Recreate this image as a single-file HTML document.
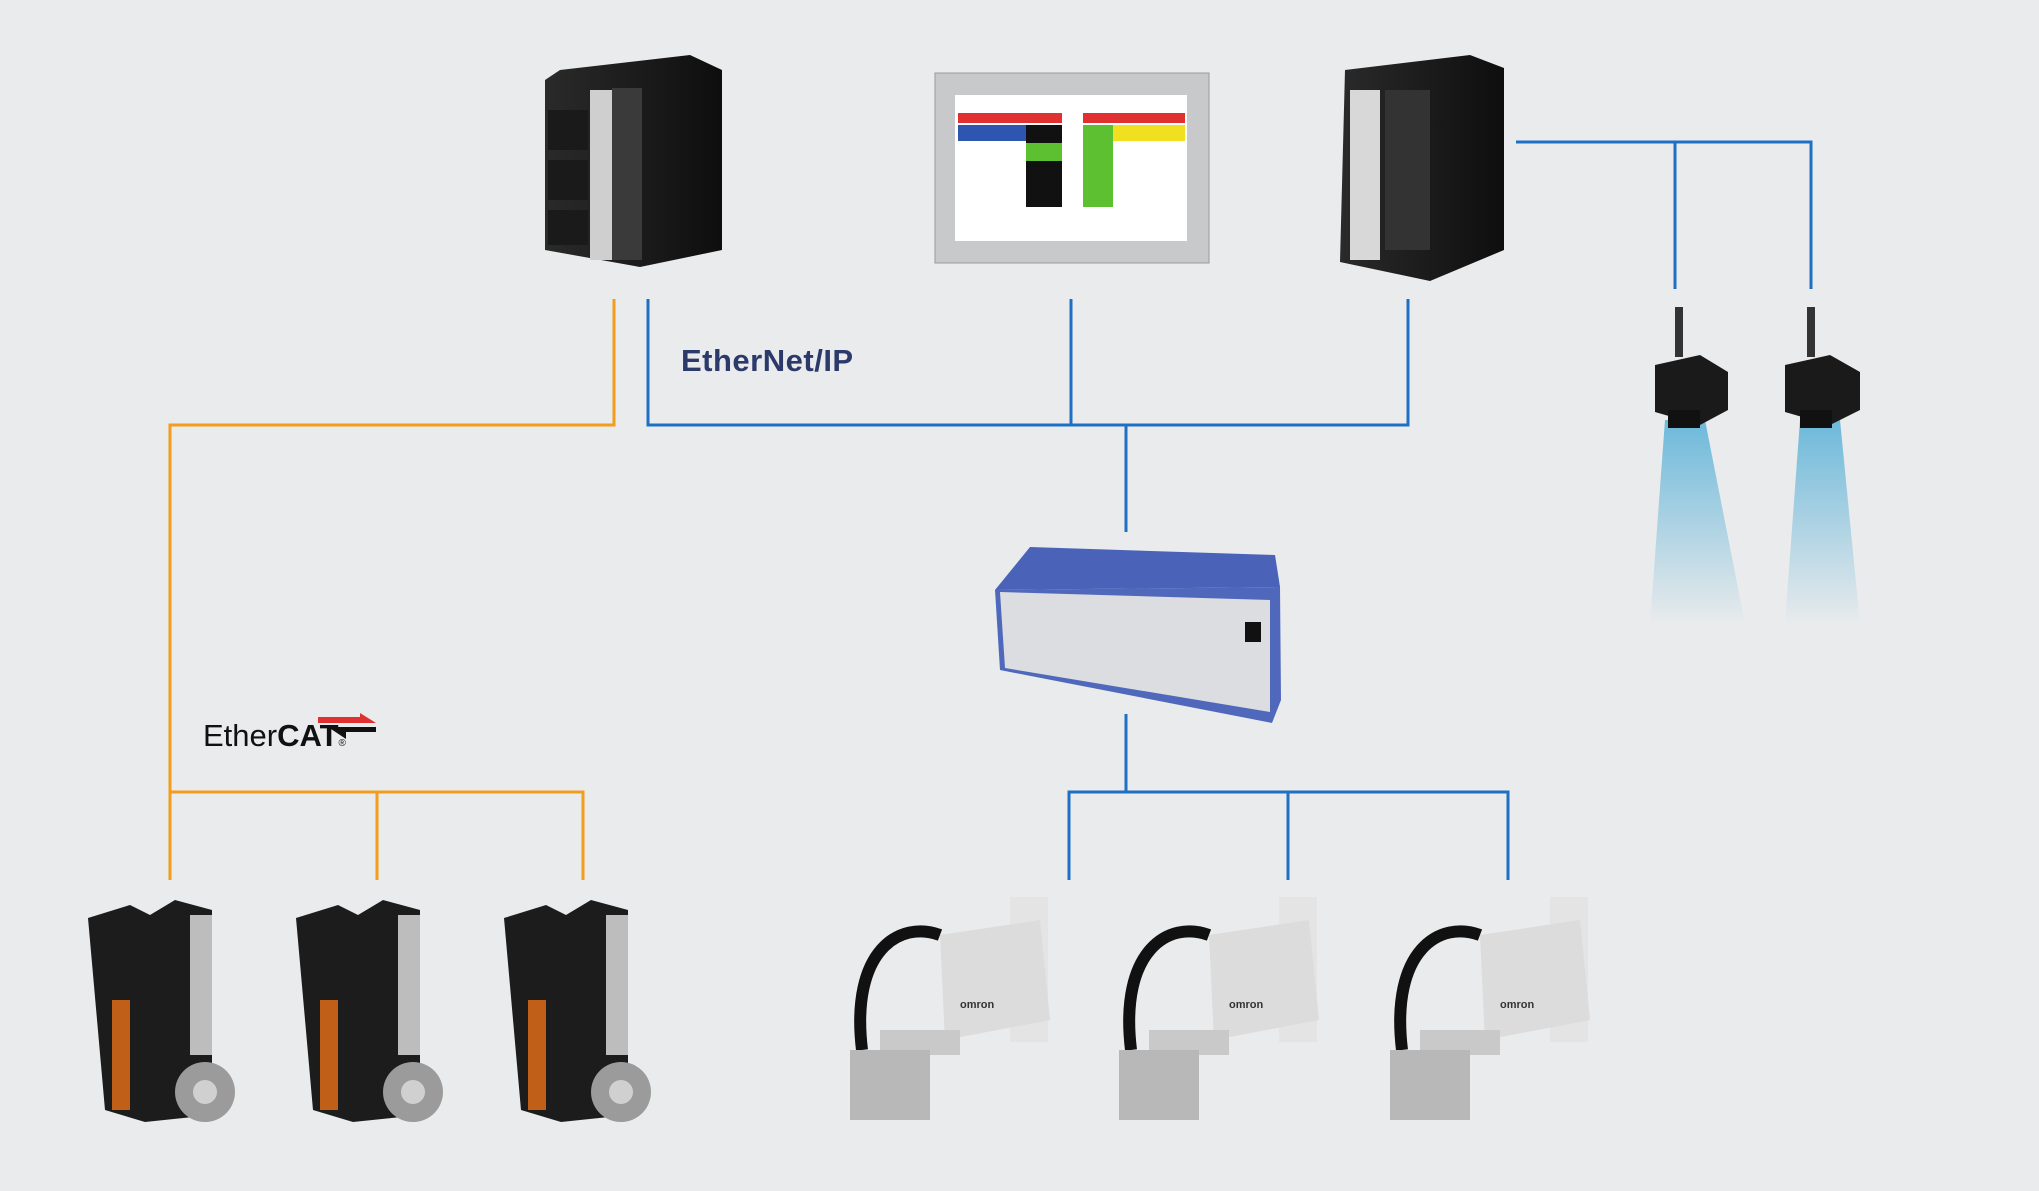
<!DOCTYPE html>
<html><head><meta charset="utf-8"><style>
html,body{margin:0;padding:0}
body{width:2039px;height:1191px;background:#e9ebec;position:relative;overflow:hidden;font-family:"Liberation Sans",sans-serif}
.a{position:absolute}
</style></head><body>
<svg class="a" style="left:0;top:0" width="2039" height="1191">
<defs>
<linearGradient id="beam" x1="0" y1="0" x2="0" y2="1"><stop offset="0" stop-color="#5fb3d8"/><stop offset="1" stop-color="#e9ebec"/></linearGradient>
<linearGradient id="blk" x1="0" y1="0" x2="1" y2="0"><stop offset="0" stop-color="#2a2a2a"/><stop offset="1" stop-color="#0e0e0e"/></linearGradient>
</defs>
<g fill="none" stroke-width="3">
<path stroke="#f39c1e" d="M614 299V425H170V880M170 792H583V880M377 792V880"/>
<path stroke="#1f6fc4" d="M648 299V425H1408V299M1071 299V425M1126 425V532M1126 714V792M1069 880V792H1508V880M1288 792V880M1516 142H1811V289M1675 142V289"/>
</g>
<!-- PLC -->
<g>
<polygon points="560,70 690,55 722,70 722,250 640,267 545,250 545,80" fill="url(#blk)"/>
<rect x="590" y="90" width="22" height="170" fill="#cfcfcf"/>
<rect x="612" y="88" width="30" height="172" fill="#3a3a3a"/>
<rect x="548" y="110" width="40" height="40" fill="#1a1a1a"/>
<rect x="548" y="160" width="40" height="40" fill="#1a1a1a"/>
<rect x="548" y="210" width="40" height="35" fill="#1a1a1a"/>
</g>
<!-- HMI -->
<rect x="935" y="73" width="274" height="190" fill="#c8c9cb" stroke="#9a9a9a"/>
<rect x="955" y="95" width="232" height="146" fill="#fff"/>
<rect x="958" y="113" width="104" height="10" fill="#e03030"/>
<rect x="1083" y="113" width="102" height="10" fill="#e03030"/>
<rect x="958" y="125" width="68" height="16" fill="#2e55b0"/>
<rect x="1026" y="125" width="36" height="82" fill="#111"/>
<rect x="1026" y="143" width="36" height="18" fill="#5cc030"/>
<rect x="1083" y="125" width="30" height="82" fill="#5cc030"/>
<rect x="1113" y="125" width="72" height="16" fill="#f0e020"/>
<!-- Vision -->
<polygon points="1345,70 1470,55 1504,68 1504,250 1430,281 1340,262" fill="url(#blk)"/>
<rect x="1350" y="90" width="30" height="170" fill="#d8d8d8"/>
<rect x="1385" y="90" width="45" height="160" fill="#333"/>
<!-- Cameras -->
<g>
<polygon points="1665,420 1705,420 1745,624 1650,624" fill="url(#beam)" opacity=".9"/>
<rect x="1675" y="307" width="8" height="50" fill="#333"/>
<polygon points="1655,365 1700,355 1728,372 1728,410 1700,425 1655,412" fill="#1a1a1a"/>
<rect x="1668" y="410" width="32" height="18" fill="#111"/>
<polygon points="1800,420 1840,420 1860,624 1785,624" fill="url(#beam)" opacity=".9"/>
<rect x="1807" y="307" width="8" height="50" fill="#333"/>
<polygon points="1785,365 1830,355 1860,372 1860,410 1830,425 1785,412" fill="#1a1a1a"/>
<rect x="1800" y="410" width="32" height="18" fill="#111"/>
</g>
<!-- Controller -->
<polygon points="1030,547 1275,555 1280,587 995,590" fill="#4a63b8"/>
<polygon points="995,590 1280,587 1281,700 1272,723 1000,670" fill="#4f68bc"/>
<polygon points="1000,592 1270,600 1270,712 1005,668" fill="#dcdde0"/>
<rect x="1245" y="622" width="16" height="20" fill="#111"/>
<!-- Servos -->
<g id="sv">
<polygon points="88,918 130,905 150,915 175,900 212,910 212,1115 145,1122 105,1110" fill="#1c1c1c"/>
<rect x="190" y="915" width="22" height="140" fill="#bdbdbd"/>
<rect x="112" y="1000" width="18" height="110" fill="#c06018"/>
<circle cx="205" cy="1092" r="30" fill="#9b9b9b"/>
<circle cx="205" cy="1092" r="12" fill="#d0d0d0"/>
</g>
<use href="#sv" x="208"/>
<use href="#sv" x="416"/>
<!-- Robots -->
<g id="rb">
<rect x="1010" y="897" width="38" height="145" fill="#e4e4e4"/>
<polygon points="940,935 1040,920 1050,1020 945,1040" fill="#dcdcdc"/>
<path d="M862 1050 C850 950,900 920,940 935" stroke="#111" stroke-width="12" fill="none"/>
<rect x="880" y="1030" width="80" height="25" fill="#c9c9c9"/>
<rect x="850" y="1050" width="80" height="70" fill="#b8b8b8"/>
<text x="960" y="1008" font-size="11" font-weight="bold" fill="#333">omron</text>
</g>
<use href="#rb" x="269"/>
<use href="#rb" x="540"/>
</svg>
<div class="a" style="left:681px;top:343px;font-size:31px;font-weight:bold;color:#2b3a6b;letter-spacing:0.5px">Ether<span style="color:#2b3a6b">N</span>et/IP</div>
<div class="a" style="left:203px;top:718px;font-size:31px;color:#111">Ether<b>CAT</b><span style="font-size:10px">®</span></div>
<svg class="a" style="left:318px;top:713px" width="60" height="30"><polygon points="0,4 42,4 42,0 58,10 0,10" fill="#e03030"/><polygon points="10,14 58,14 58,19 28,19 28,26" fill="#111"/></svg>
</body></html>
